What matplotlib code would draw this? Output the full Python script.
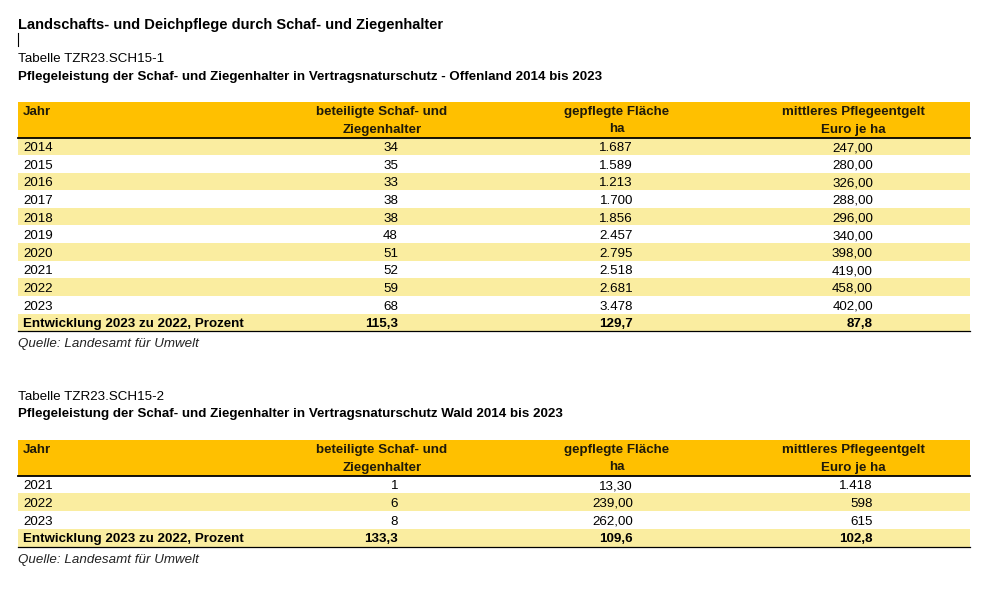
import matplotlib
matplotlib.use("Agg")
import matplotlib.pyplot as plt
from matplotlib.patches import Rectangle

plt.rcParams["font.family"] = ["Liberation Sans", "DejaVu Sans"]

title = "Landschafts- und Deichpflege durch Schaf- und Ziegenhalter"
source = "Quelle: Landesamt für Umwelt"
header_top = ["beteiligte Schaf- und", "gepflegte Fläche", "mittleres Pflegeentgelt"]
header_unit = ["Ziegenhalter", "ha", "Euro je ha"]

# Tabelle 1 - Offenland
t1_id = "Tabelle TZR23.SCH15-1"
t1_name = "Pflegeleistung der Schaf- und Ziegenhalter in Vertragsnaturschutz - Offenland 2014 bis 2023"
t1_years = ["2014", "2015", "2016", "2017", "2018", "2019", "2020", "2021", "2022", "2023"]
t1_halter = ["34", "35", "33", "38", "38", "48", "51", "52", "59", "68"]
t1_flaeche = ["1.687", "1.589", "1.213", "1.700", "1.856", "2.457", "2.795", "2.518", "2.681", "3.478"]
t1_entgelt = ["247,00", "280,00", "326,00", "288,00", "296,00", "340,00", "398,00", "419,00",
              "458,00", "402,00"]
t1_change = ["Entwicklung 2023 zu 2022, Prozent", "115,3", "129,7", "87,8"]

# Tabelle 2 - Wald
t2_id = "Tabelle TZR23.SCH15-2"
t2_name = "Pflegeleistung der Schaf- und Ziegenhalter in Vertragsnaturschutz Wald 2014 bis 2023"
t2_years = ["2021", "2022", "2023"]
t2_halter = ["1", "6", "8"]
t2_flaeche = ["13,30", "239,00", "262,00"]
t2_entgelt = ["1.418", "598", "615"]
t2_change = ["Entwicklung 2023 zu 2022, Prozent", "133,3", "109,6", "102,8"]

ORANGE = "#FFC000"
BAND = "#FAEDA0"
HEAD_TXT = "#1f1a0a"
LEFT, RIGHT = 18, 970
COL_RIGHT = [None, 398, 633, 873]
COL_HEAD_CENTER = [None, 382, 617, 853]
FS = 9.6


def draw_table(ax, top, rows, change, row_h, band_first):
    head_h = 36
    ax.add_patch(Rectangle((LEFT, top), RIGHT - LEFT, head_h, color=ORANGE, lw=0))
    ax.text(LEFT + 5, top + 13.5, "Jahr", fontsize=FS, fontweight="bold",
            ha="left", va="baseline", color=HEAD_TXT)
    for c in range(1, 4):
        ax.text(COL_HEAD_CENTER[c], top + 13.5, header_top[c - 1], fontsize=FS,
                fontweight="bold", ha="center", va="baseline", color=HEAD_TXT)
        ax.text(COL_HEAD_CENTER[c], top + 31, header_unit[c - 1], fontsize=FS,
                fontweight="bold", ha="center", va="baseline", color=HEAD_TXT)
    body_top = top + head_h
    all_rows = rows + [change]
    for i, row in enumerate(all_rows):
        y0 = body_top + i * row_h
        last = i == len(all_rows) - 1
        banded = (i % 2 == 0) == band_first
        if banded or last:
            ax.add_patch(Rectangle((LEFT, y0), RIGHT - LEFT, row_h, color=BAND, lw=0))
        weight = "bold" if last else "normal"
        yb = y0 + 13.6
        ax.text(LEFT + 5, yb, row[0], fontsize=FS, fontweight=weight, ha="left",
                va="baseline", color="black")
        for c in range(1, 4):
            ax.text(COL_RIGHT[c], yb, row[c], fontsize=FS, fontweight=weight, ha="right",
                    va="baseline", color="black")
    ax.plot([LEFT, RIGHT], [body_top, body_top], color="black", lw=1.3)
    bottom = body_top + len(all_rows) * row_h
    ax.plot([LEFT, RIGHT], [bottom, bottom], color="black", lw=0.9)
    ax.text(LEFT, bottom + 16, source, fontsize=FS, style="italic", ha="left",
            va="baseline", color="#222222")


fig = plt.figure(figsize=(9.96, 5.89), dpi=100)
ax = fig.add_axes([0, 0, 1, 1])
ax.set_xlim(0, 996)
ax.set_ylim(589, 0)
ax.axis("off")

ax.text(LEFT, 29, title, fontsize=10.5, fontweight="bold", ha="left", va="baseline")
ax.plot([LEFT, LEFT], [33, 46], color="black", lw=0.8)

ax.text(LEFT, 62, t1_id, fontsize=FS, ha="left", va="baseline")
ax.text(LEFT, 80, t1_name, fontsize=FS, fontweight="bold", ha="left", va="baseline")
rows1 = [list(r) for r in zip(t1_years, t1_halter, t1_flaeche, t1_entgelt)]
draw_table(ax, 101.5, rows1, t1_change, 17.6, True)

ax.text(LEFT, 400, t2_id, fontsize=FS, ha="left", va="baseline")
ax.text(LEFT, 417, t2_name, fontsize=FS, fontweight="bold", ha="left", va="baseline")
rows2 = [list(r) for r in zip(t2_years, t2_halter, t2_flaeche, t2_entgelt)]
draw_table(ax, 439.5, rows2, t2_change, 17.75, False)

fig.savefig("out.png", dpi=100)
